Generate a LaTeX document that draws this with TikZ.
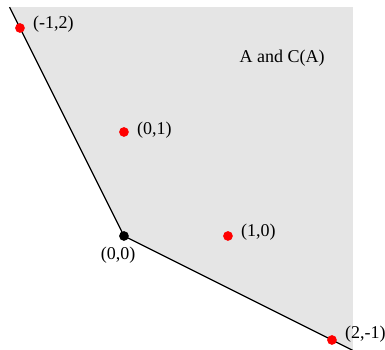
\documentclass[tikz,border=0pt]{standalone}
\usepackage{fontspec}
\setmainfont{Liberation Serif}
\usetikzlibrary{positioning}

\begin{document}
\begin{tikzpicture}[
    x=2.03cm, y=2.03cm,
    node distance=3.2pt,
    dot/.style={circle, fill=red, inner sep=0pt, minimum size=5.4pt},
    origin/.style={dot, fill=black},
    lbl/.style={inner sep=1pt, font=\fontsize{10pt}{12pt}\selectfont},
    edge/.style={line width=0.72pt}
]
\useasboundingbox (-1.192,-1.087) rectangle (2.510,2.269);

% the cone
\fill[black!10] (-1.1,2.2) -- (0,0) -- (2.2,-1.1) -- (2.2,2.2) -- cycle;
\coordinate (top) at (-1.1,2.2);
\coordinate (bot) at (2.2,-1.1);

\node[origin] (o) at (0,0) {};
\draw[edge] (top) -- (o.center) -- (bot);

\node[dot] (m12) at (-1,2) {};
\node[dot] (p01) at (0,1) {};
\node[dot] (p10) at (1,0) {};
\node[dot] (p2m1) at (2,-1) {};

\node[lbl, right=of m12, yshift=2pt] (t12) {(-1,2)};
\node[lbl, right=of p01, yshift=1pt] (t01) {(0,1)};
\node[lbl, right=of p10, yshift=2pt] (t10) {(1,0)};
\node[lbl, right=of p2m1, yshift=3pt] (t2m1) {(2,-1)};
\node[lbl, below=2pt of o, xshift=-3.3pt] (t00) {(0,0)};

\node[lbl] (set) at (1.52,1.71) {A and C(A)};
\end{tikzpicture}
\end{document}
